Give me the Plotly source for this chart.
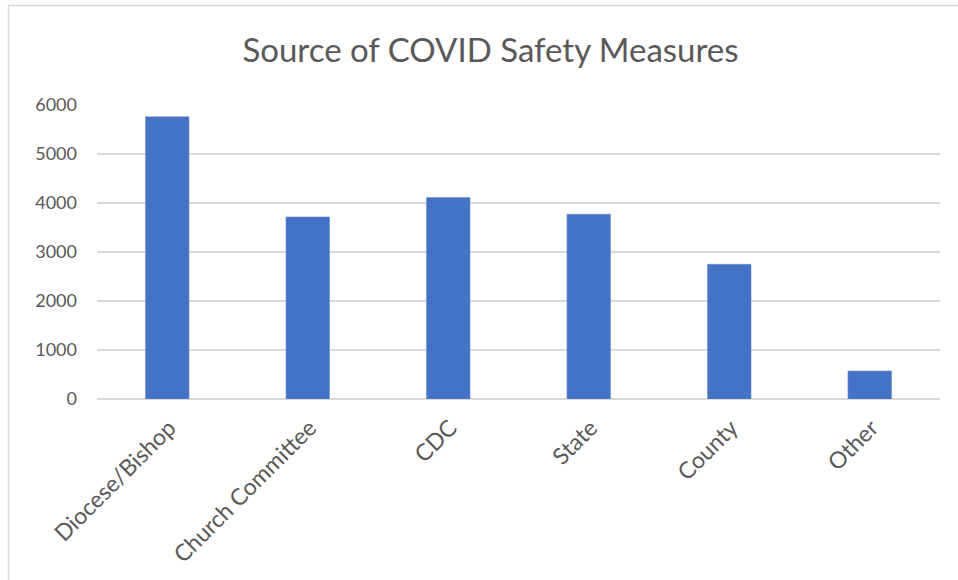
import plotly.graph_objects as go

# Survey responses: where each church's COVID safety rules came from
categories = ["Diocese/Bishop", "Church Committee", "CDC", "State", "County", "Other"]
responses = [5760, 3715, 4110, 3770, 2750, 572]

y_ticks = [0, 1000, 2000, 3000, 4000, 5000, 6000]

FONT = "Lato"
TEXT_GREY = "#595959"
GRID_GREY = "#d9d9d9"
BAR_BLUE = "#4472C4"

fig = go.Figure(
    go.Bar(
        x=categories,
        y=responses,
        marker=dict(color=BAR_BLUE, line=dict(color="#6e8fd0", width=0.6)),
        hoverinfo="x+y",
    )
)

fig.update_layout(
    width=958,
    height=580,
    margin=dict(l=97, r=18, t=105, b=181),
    paper_bgcolor="white",
    plot_bgcolor="white",
    bargap=0.69,
    showlegend=False,
    font=dict(family=FONT, color=TEXT_GREY, size=20),
    title=dict(
        text="Source of COVID Safety Measures",
        x=0.512,
        xanchor="center",
        y=1 - 50 / 580,
        yanchor="middle",
        yref="container",
        font=dict(family=FONT, size=33, color=TEXT_GREY),
    ),
    # light frame around the chart area
    shapes=[
        dict(
            type="rect",
            xref="paper",
            yref="paper",
            x0=(8.5 - 97) / 843,
            x1=1.1,
            y0=-1.0,
            y1=(399 - 5.5) / 294,
            line=dict(color="#d9d9d9", width=1.5),
            fillcolor="rgba(0,0,0,0)",
            layer="below",
        )
    ],
)

fig.update_xaxes(
    type="category",
    tickangle=-45,
    showgrid=False,
    showline=False,
    ticks="",
    ticklabelstandoff=10,
    ticklabelshift=2,
    tickfont=dict(family=FONT, size=23, color=TEXT_GREY),
)

fig.update_yaxes(
    range=[0, 6000],
    tickvals=y_ticks,
    ticktext=[str(v) for v in y_ticks],
    showgrid=True,
    gridcolor=GRID_GREY,
    gridwidth=1.5,
    zeroline=True,
    zerolinecolor=GRID_GREY,
    zerolinewidth=1.5,
    showline=False,
    ticks="",
    ticklabelstandoff=19,
    tickfont=dict(family=FONT, size=18, color=TEXT_GREY),
)

fig.write_html("out.html")
